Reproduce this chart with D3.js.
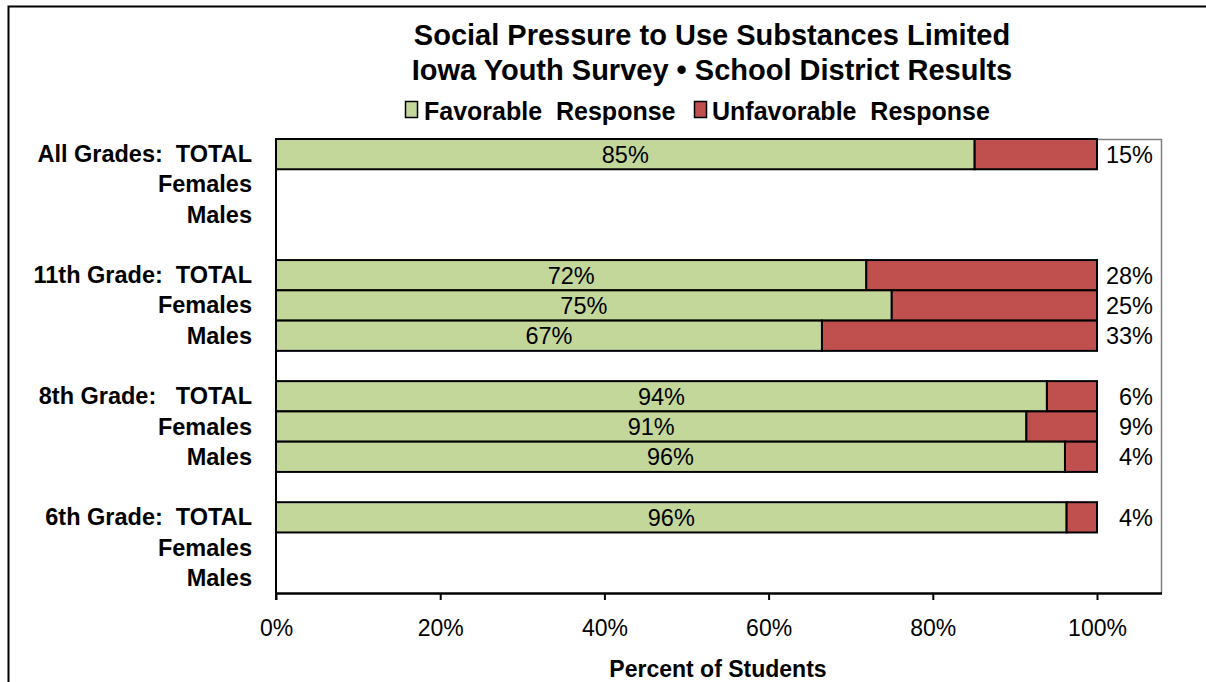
<!DOCTYPE html>
<html><head><meta charset="utf-8">
<script src="https://cdn.jsdelivr.net/npm/d3@7/dist/d3.min.js"></script>
<style>body{margin:0;background:#fff;} svg{display:block;font-family:"Liberation Sans",Arial,sans-serif;}</style>
</head><body>
<svg id="c" width="1206" height="682"></svg>
<script>
const categories = ["All-T","All-F","All-M","gap1","11-T","11-F","11-M","gap2","8-T","8-F","8-M","gap3","6-T","6-F","6-M"];
const labelText = ["All Grades:  TOTAL","Females","Males","","11th Grade:  TOTAL","Females","Males","","8th Grade:   TOTAL","Females","Males","","6th Grade:  TOTAL","Females","Males"];
const favorable = [85.1,null,null,null,71.9,75.0,66.5,null,93.9,91.4,96.1,null,96.3,null,null];
const unfavorable = [14.9,null,null,null,28.1,25.0,33.5,null,6.1,8.6,3.9,null,3.7,null,null];
const favLabels = ["85%","","","","72%","75%","67%","","94%","91%","96%","","96%","",""];
const unfavLabels = ["15%","","","","28%","25%","33%","","6%","9%","4%","","4%","",""];
const xTicks = [0,20,40,60,80,100];
const seriesNames = ["Favorable  Response","Unfavorable  Response"];
const colors = ["#C4D79B","#C0504D"];

const svg = d3.select("#c");
// outer frame
svg.append("path").attr("d","M8.5,682 V6.5 H1206").attr("fill","none").attr("stroke","#000").attr("stroke-width",2);

const L=276, R=1162, T=139, B=593;
const x = d3.scaleLinear().domain([0,100]).range([L,1097]);
const y = d3.scaleBand().domain(categories).range([T,B]).padding(0);

// plot frame (top/right)
svg.append("path").attr("d",`M${L},${T}.5 H${R-0.5} V${B}`).attr("fill","none").attr("stroke","#808080").attr("stroke-width",1.5);

const g = svg.append("g");
categories.forEach((c,i)=>{
  if(favorable[i]==null) return;
  g.append("rect").attr("x",x(0)).attr("y",y(c)).attr("width",x(favorable[i])-x(0)).attr("height",y.bandwidth())
    .attr("fill",colors[0]).attr("stroke","#000").attr("stroke-width",2);
  g.append("rect").attr("x",x(favorable[i])).attr("y",y(c)).attr("width",x(favorable[i]+unfavorable[i])-x(favorable[i])).attr("height",y.bandwidth())
    .attr("fill",colors[1]).attr("stroke","#000").attr("stroke-width",2);
  g.append("text").attr("x",x(favorable[i]/2)).attr("y",y(c)+y.bandwidth()/2+8.5).attr("text-anchor","middle")
    .attr("font-size",23.5).attr("fill","#000").text(favLabels[i]);
  g.append("text").attr("x",1153).attr("y",y(c)+y.bandwidth()/2+8.5).attr("text-anchor","end")
    .attr("font-size",23.5).attr("fill","#000").text(unfavLabels[i]);
});

// row labels
categories.forEach((c,i)=>{
  if(!labelText[i]) return;
  svg.append("text").attr("x",252).attr("y",y(c)+y.bandwidth()/2+8).attr("text-anchor","end")
    .attr("font-size",23.5).attr("font-weight","bold").attr("xml:space","preserve").style("white-space","pre").text(labelText[i]);
});

// x axis
const ax = svg.append("g").attr("transform",`translate(0,${B})`)
  .call(d3.axisBottom(x).tickValues(xTicks).tickFormat(d=>d+"%").tickSize(7).tickSizeOuter(0));
ax.select(".domain").attr("stroke","#000").attr("stroke-width",2.5).attr("d",`M${L},0.5H${R}`);
ax.selectAll(".tick line").attr("stroke","#000").attr("stroke-width",2);
ax.selectAll(".tick text").attr("font-size",23).attr("font-family","Liberation Sans, Arial, sans-serif").attr("fill","#000").attr("dy","1.45em");
// y axis line
svg.append("line").attr("x1",L).attr("x2",L).attr("y1",T).attr("y2",B+7).attr("stroke","#000").attr("stroke-width",2);

svg.append("text").attr("x",718).attr("y",677).attr("text-anchor","middle").attr("font-size",23).attr("font-weight","bold").text("Percent of Students");

// title
svg.append("text").attr("x",712).attr("y",45).attr("text-anchor","middle").attr("font-size",29).attr("font-weight","bold").text("Social Pressure to Use Substances Limited");
svg.append("text").attr("x",712).attr("y",80).attr("text-anchor","middle").attr("font-size",29).attr("font-weight","bold").text("Iowa Youth Survey \u2022 School District Results");

// legend
const lg = svg.append("g");
lg.append("rect").attr("x",405.5).attr("y",101.5).attr("width",12).attr("height",16).attr("fill",colors[0]).attr("stroke","#000").attr("stroke-width",1.5);
lg.append("text").attr("x",424).attr("y",120).attr("font-size",25).attr("font-weight","bold").attr("xml:space","preserve").style("white-space","pre").text(seriesNames[0]);
lg.append("rect").attr("x",694.5).attr("y",101.5).attr("width",12).attr("height",16).attr("fill",colors[1]).attr("stroke","#000").attr("stroke-width",1.5);
lg.append("text").attr("x",712).attr("y",120).attr("font-size",25).attr("font-weight","bold").attr("xml:space","preserve").style("white-space","pre").text(seriesNames[1]);
</script>
</body></html>
